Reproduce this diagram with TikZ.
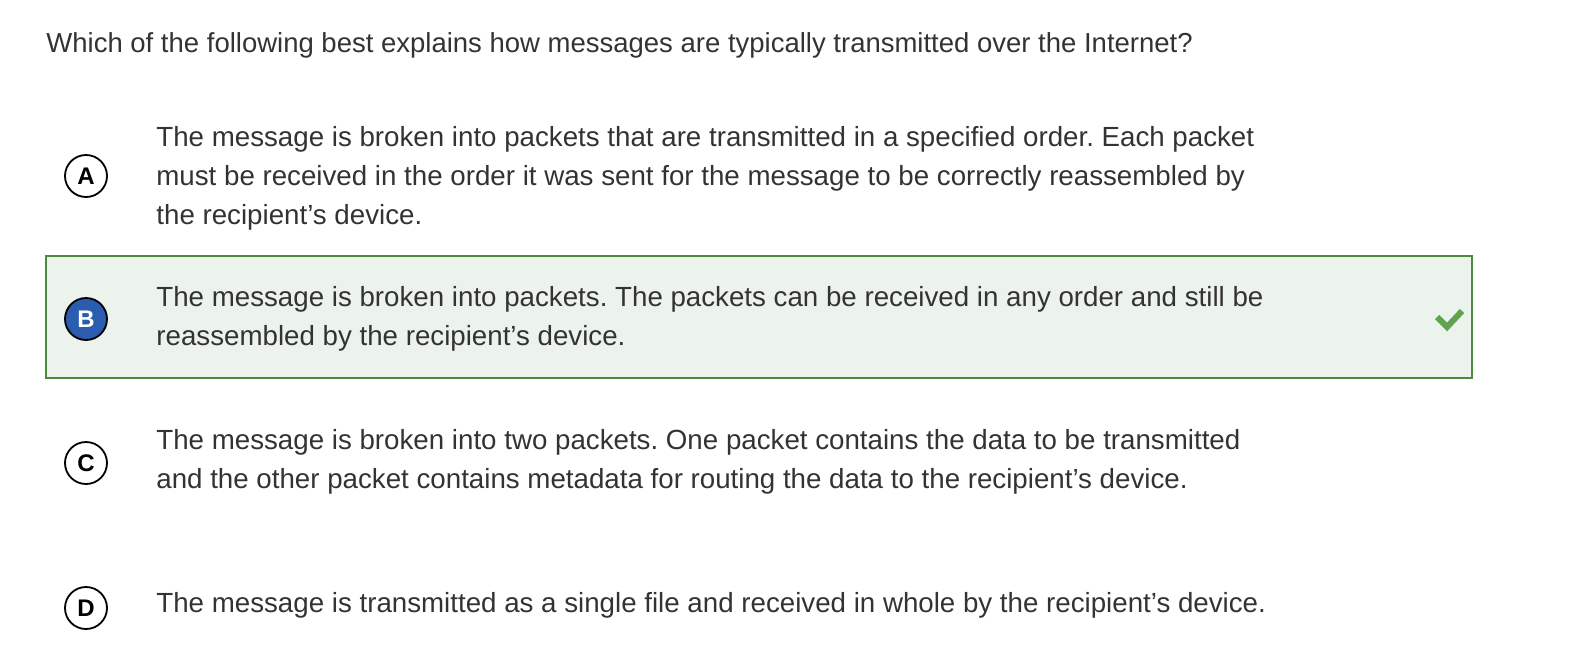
\documentclass[tikz,border=0pt]{standalone}
\usepackage{fontspec}
\setmainfont{Liberation Sans}
\frenchspacing
\definecolor{txtgray}{HTML}{333333}
\definecolor{okgreen}{HTML}{4C8A3E}
\definecolor{okfill}{HTML}{ECF3EC}
\definecolor{tickgreen}{HTML}{5FA34F}
\definecolor{pickblue}{HTML}{2A5DB0}
\begin{document}
\begin{tikzpicture}[x=0.5pt,y=-0.5pt,
    answer/.style={anchor=west,inner sep=0pt,align=left,text=txtgray,
      font=\fontsize{13.85pt}{19.5pt}\selectfont},
    letter/.style={circle,draw=black,line width=0.9pt,minimum size=21pt,inner sep=0pt,
      font=\fontsize{12pt}{12pt}\selectfont\bfseries}]
      \useasboundingbox (0, 0) rectangle (1588, 670);

      % question
      \node (quest) at (46, 45) [answer, font=\fontsize{13.75pt}{15pt}\selectfont] {Which of the following best explains how messages are typically transmitted over the Internet?};

      % correct choice box
      \draw[okgreen, fill=okfill, line width=1pt] (46, 256) rectangle (1472, 378);

      \node (la) at (86, 176) [letter] {A};
      \node (lb) at (86, 319) [letter, fill=pickblue, text=white] {B};
      \node (lc) at (86, 463) [letter] {C};
      \node (ld) at (86, 608) [letter] {D};

      \node (ta) at (156, 178) [answer] {The message is broken into packets that are transmitted in a specified order. Each packet\\must be received in the order it was sent for the message to be correctly reassembled by\\the recipient’s device.};
      \node (tb) at (156, 319) [answer] {The message is broken into packets. The packets can be received in any order and still be\\reassembled by the recipient’s device.};
      \node (tc) at (156, 462) [answer] {The message is broken into two packets. One packet contains the data to be transmitted\\and the other packet contains metadata for routing the data to the recipient’s device.};
      \node (td) at (156, 605) [answer] {The message is transmitted as a single file and received in whole by the recipient’s device.};

      % tick
      \draw[tickgreen, line width=3pt] (1437, 317) -- (1447, 327) -- (1462, 311);
    \end{tikzpicture}
\end{document}
